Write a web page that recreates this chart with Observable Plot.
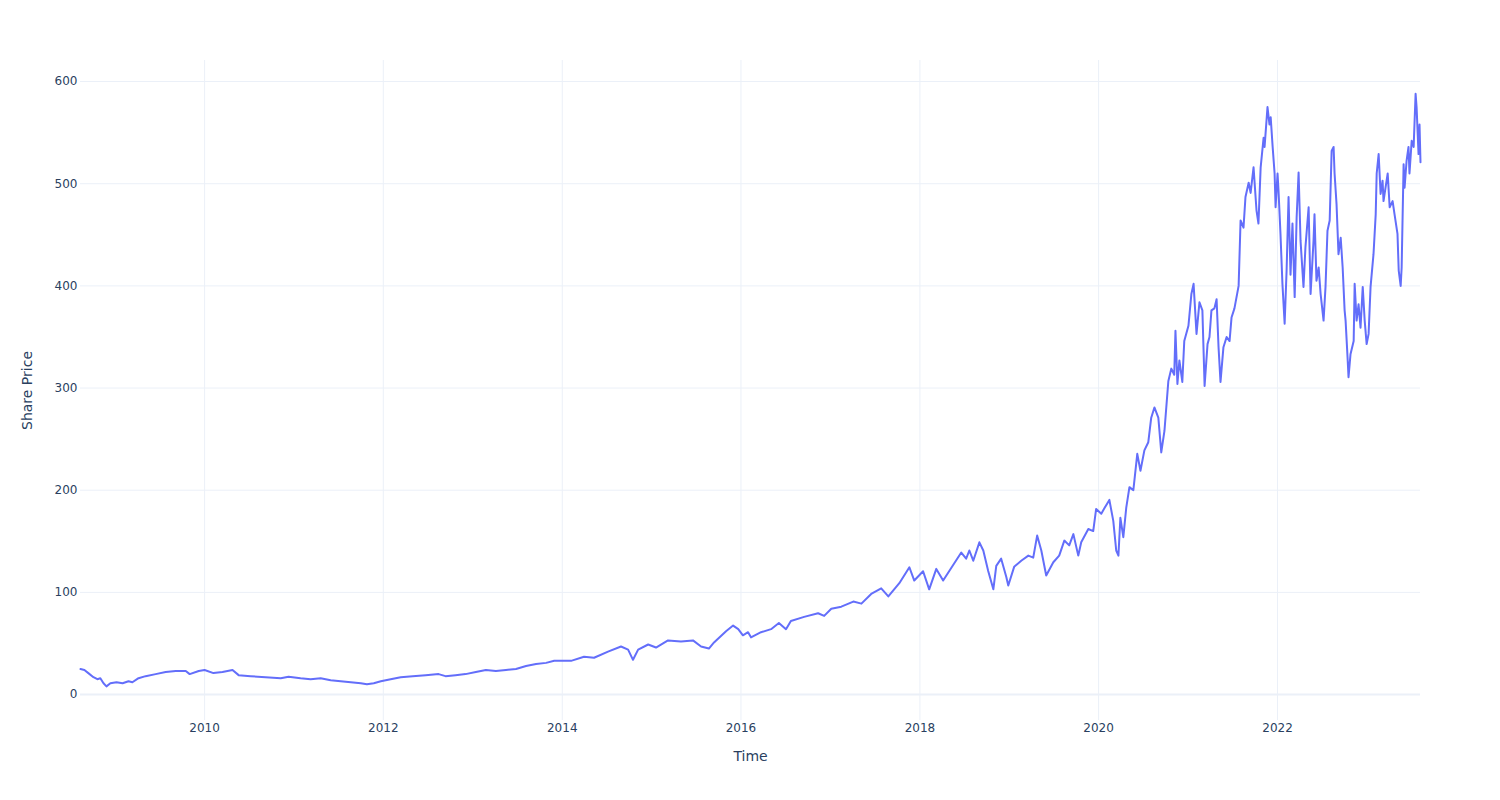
<!DOCTYPE html>
<html>
<head>
<meta charset="utf-8">
<script src="https://cdn.jsdelivr.net/npm/d3@7"></script>
<script src="https://cdn.jsdelivr.net/npm/@observablehq/plot@0.6"></script>
<style>
  html, body { margin: 0; padding: 0; background: #ffffff; }
  #chart { width: 1500px; height: 800px; }
</style>
</head>
<body>
<div id="chart"></div>
<script>
// ---- Data ----
const dates = [
  "2008-08-12","2008-08-28","2008-09-13","2008-10-04","2008-10-20","2008-11-01","2008-11-14","2008-11-26","2008-12-12",
  "2009-01-06","2009-01-31","2009-02-24","2009-03-12","2009-04-06","2009-05-05","2009-06-15","2009-07-26","2009-09-05","2009-10-16","2009-11-01","2009-12-08",
  "2010-01-01","2010-02-06","2010-03-15","2010-04-25","2010-05-20","2010-07-08","2010-09-07","2010-11-08","2010-12-10",
  "2011-01-28","2011-03-10","2011-04-20","2011-05-31","2011-07-11","2011-08-21","2011-10-01","2011-10-26","2011-11-23","2011-12-22",
  "2012-01-31","2012-03-12","2012-04-30","2012-06-22","2012-08-14","2012-09-11","2012-10-22","2012-12-02",
  "2013-01-13","2013-02-23","2013-04-05","2013-05-16","2013-06-26","2013-08-06","2013-09-16","2013-10-27","2013-11-29",
  "2014-01-01","2014-02-06","2014-03-31","2014-05-11","2014-07-07","2014-08-29","2014-09-27","2014-10-17","2014-11-07","2014-12-18",
  "2015-01-19","2015-03-09","2015-05-01","2015-06-19","2015-07-22","2015-08-23","2015-09-13","2015-11-01","2015-11-30","2015-12-21",
  "2016-01-09","2016-01-30","2016-02-11","2016-03-23","2016-05-03","2016-06-04","2016-07-03","2016-07-23","2016-09-15","2016-11-11","2016-12-06",
  "2017-01-04","2017-02-14","2017-04-04","2017-05-07","2017-06-16","2017-07-27","2017-08-25","2017-10-09","2017-11-19","2017-12-09",
  "2018-01-14","2018-02-08","2018-03-09","2018-04-06","2018-05-01","2018-06-19","2018-07-09","2018-07-22","2018-08-07","2018-09-01","2018-09-17","2018-10-07","2018-10-28","2018-11-09","2018-11-29","2018-12-20","2018-12-28",
  "2019-01-21","2019-02-19","2019-03-20","2019-04-09","2019-04-25","2019-05-12","2019-06-01","2019-06-30","2019-07-24","2019-08-14","2019-09-03","2019-09-20","2019-10-10","2019-10-22","2019-11-20","2019-12-10","2019-12-22",
  "2020-01-12","2020-01-24","2020-02-14","2020-03-01","2020-03-13","2020-03-22","2020-03-30","2020-04-11","2020-04-23","2020-05-06","2020-05-22","2020-06-07","2020-06-20","2020-07-06","2020-07-22","2020-08-03","2020-08-16","2020-09-01","2020-09-13","2020-09-26","2020-10-12","2020-10-24","2020-11-05","2020-11-10","2020-11-18","2020-11-26","2020-12-08","2020-12-16",
  "2021-01-02","2021-01-14","2021-01-23","2021-02-04","2021-02-16","2021-02-28","2021-03-09","2021-03-21","2021-03-29","2021-04-06","2021-04-18","2021-04-27","2021-05-05","2021-05-13","2021-05-25","2021-06-07","2021-06-19","2021-06-27","2021-07-09","2021-07-26","2021-08-03","2021-08-15","2021-08-23","2021-09-05","2021-09-13","2021-09-25","2021-10-07","2021-10-15","2021-10-24","2021-11-05","2021-11-09","2021-11-21","2021-11-29","2021-12-04","2021-12-12","2021-12-20","2021-12-24",
  "2022-01-01","2022-01-05","2022-01-13","2022-01-21","2022-01-30","2022-02-07","2022-02-15","2022-02-23","2022-03-03","2022-03-12","2022-03-20","2022-03-28","2022-04-05","2022-04-17","2022-04-25","2022-05-08","2022-05-16","2022-05-28","2022-06-01","2022-06-09","2022-06-18","2022-06-26","2022-07-08","2022-07-16","2022-07-24","2022-08-02","2022-08-10","2022-08-18","2022-08-22","2022-08-30","2022-09-07","2022-09-16","2022-09-24","2022-10-02","2022-10-06","2022-10-14","2022-10-18","2022-10-26","2022-11-08","2022-11-12","2022-11-20","2022-11-28","2022-12-06","2022-12-15","2022-12-23","2022-12-31",
  "2023-01-08","2023-01-16","2023-01-28","2023-02-06","2023-02-10","2023-02-18","2023-02-26","2023-03-06","2023-03-10","2023-03-18","2023-03-27","2023-04-04","2023-04-16","2023-04-24","2023-05-06","2023-05-11","2023-05-19","2023-05-23","2023-05-31","2023-06-04","2023-06-12","2023-06-20","2023-06-24","2023-07-03","2023-07-11","2023-07-19","2023-07-23","2023-07-31","2023-08-04","2023-08-08"
];
const prices = [
  25,24,21,17,15,16,11,8,11,
  12,11,13,12,16,18,20,22,23,23,20,23,
  24,21,22,24,19,18,17,16,17.5,
  16,15,16,14,13,12,11,10,11,13,
  15,17,18,19,20,18,19,20,
  22,24,23,24,25,28,30,31,33,
  33,33,37,36,42,47,44,34,44,49,
  46,53,52,53,47,45,51,62,67.5,64,
  58,61,56,61,64,70,64,72,76,79.6,77,
  84,86,91,89,98.5,104,96,109,124.6,111.6,
  120.7,103,123,111.6,121,139,133,141,131,149,141,121,103,126,133,115,106.7,
  125,131,136,134,155.6,141,116.5,129.5,136,150.7,146,157,136,149,162,160,181.7,
  177,182,190.5,170,141,136,173,154,183,203,200,235.6,219,239,247,271,281,271,237,258,307,319,313,356,304,327,306,346,
  361,392,402,353,384,376,302,343,350,376,378,387,340,306,340,350,346,369,378,400,464,457,487,501,491,516,474,461,516,545,536,575,558,565,536,510,477,
  510,493,451,402,363,415,487,411,461,389,467,511,444,399,438,477,392,444,470,405,418,392,366,399,454,464,532,536,510,480,431,447,418,376,366,330,310.6,333,346,402,366,382,359,399,366,343,
  353,399,431,470,510,529,490,503,483,496,510,477,483,470,451,415,400,418,519,496,522,536,510,542,536,588,575,529,558,521
];
const yTickValues = [0, 100, 200, 300, 400, 500, 600];
const xTickYears = [2010, 2012, 2014, 2016, 2018, 2020, 2022];
const xTitle = "Time";
const yTitle = "Share Price";

// ---- Build table ----
const data = dates.map((d, i) => ({ date: new Date(d + "T00:00:00Z"), price: prices[i] }));
const xTicks = xTickYears.map(y => new Date(Date.UTC(y, 0, 1)));

const gridColor = "#ebf0f8";
const textColor = "#2a3f5f";

const chart = Plot.plot({
  width: 1500,
  height: 800,
  marginTop: 60,
  marginBottom: 80,
  marginLeft: 80,
  marginRight: 80,
  style: { fontFamily: "'DejaVu Sans', Verdana, sans-serif", fontSize: "12px", color: textColor, background: "#ffffff" },
  x: { type: "utc", domain: d3.extent(data, d => d.date) },
  y: { domain: [-25.4, 620.6] },
  marks: [
    Plot.gridX(xTicks, { stroke: gridColor, strokeOpacity: 1, strokeWidth: 1 }),
    Plot.gridY(yTickValues, { stroke: gridColor, strokeOpacity: 1, strokeWidth: 1 }),
    Plot.ruleY([0], { stroke: gridColor, strokeOpacity: 1, strokeWidth: 2 }),
    Plot.axisX(xTicks, { tickSize: 0, tickPadding: 3, tickFormat: d3.utcFormat("%Y"), label: null, fontSize: 12 }),
    Plot.axisY(yTickValues, { tickSize: 0, tickPadding: 3, label: null, fontSize: 12 }),
    Plot.line(data, { x: "date", y: "price", stroke: "#636efa", strokeWidth: 2, strokeLinejoin: "round" }),
    Plot.text([xTitle], { frameAnchor: "bottom", dy: 36, lineAnchor: "middle", textAnchor: "middle", fontSize: 14, fill: textColor }),
    Plot.text([yTitle], { frameAnchor: "left", dx: -53, rotate: -90, lineAnchor: "middle", textAnchor: "middle", fontSize: 14, fill: textColor })
  ]
});
document.getElementById("chart").appendChild(chart);
</script>
</body>
</html>
